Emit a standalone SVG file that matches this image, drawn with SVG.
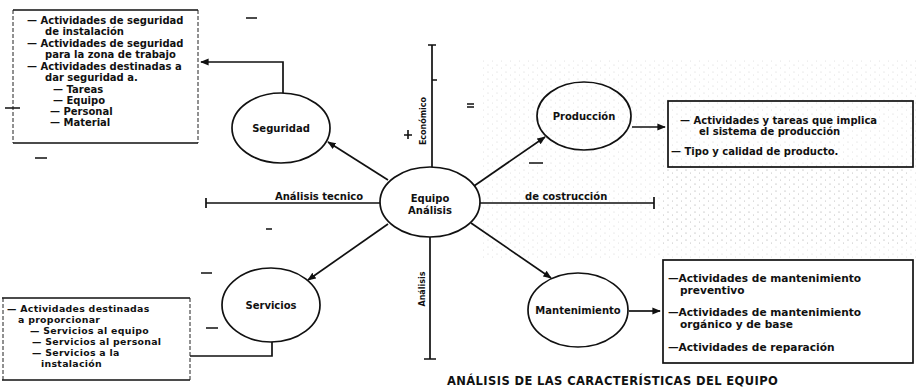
<svg xmlns="http://www.w3.org/2000/svg" width="916" height="387" viewBox="0 0 916 387">
<style>
.t{font-family:"DejaVu Sans","Liberation Sans",sans-serif;font-weight:bold;font-size:10px;fill:#111}
.c{text-anchor:middle}
.v{font-size:8px}
.m{font-size:10.6px}
.s{font-size:9.4px;letter-spacing:0.3px}
.ttl{font-size:11.5px;letter-spacing:0.4px}
.el{fill:none;stroke:#111;stroke-width:1.7}
.ln{fill:none;stroke:#111;stroke-width:1.7}
.bx{fill:none;stroke:#111;stroke-width:1.7}
.side{fill:none;stroke:#222;stroke-width:1;stroke-dasharray:4 2}
.art{stroke:#111;stroke-width:1.6;fill:none}
</style>
<defs>
<marker id="ah" viewBox="0 0 10 10" refX="9" refY="5" markerWidth="5" markerHeight="5" orient="auto">
<path d="M0,1 L10,5 L0,9 z" fill="#111"/>
</marker>
<pattern id="spk" width="9" height="7" patternUnits="userSpaceOnUse">
<circle cx="2" cy="2" r="0.6" fill="#999"/>
<circle cx="6.5" cy="5" r="0.5" fill="#aaa"/>
</pattern>
</defs>
<rect width="916" height="387" fill="#fff"/>
<rect x="480" y="60" width="436" height="200" fill="url(#spk)" opacity="0.45"/>
<rect x="660" y="165" width="250" height="80" fill="url(#spk)" opacity="0.6"/>

<g id="connectors">
<path class="ln" d="M432,167 V45 M428,45 H436"/>
<path class="ln" d="M430,237 V359 M424,359 H436"/>
<path class="ln" d="M380,203 H206 M206,198 V208"/>
<path class="ln" d="M480,203 H654 M654,197 V209"/>
<path class="ln" d="M388,180 L328,142" marker-end="url(#ah)"/>
<path class="ln" d="M474,186 L545,137" marker-end="url(#ah)"/>
<path class="ln" d="M388,224 L308,280" marker-end="url(#ah)"/>
<path class="ln" d="M471,223 L551,278" marker-end="url(#ah)"/>
<path class="ln" d="M283,93 V62 H201" marker-end="url(#ah)"/>
<path class="ln" d="M632,127 H665" marker-end="url(#ah)"/>
<path class="ln" d="M629,311 H660" marker-end="url(#ah)"/>
<path class="ln" d="M272,342 V356 H190"/>
<text class="t" x="275" y="200">Análisis tecnico</text>
<text class="t" x="525" y="200">de costrucción</text>
<text class="t v c" transform="translate(426,121) rotate(-90)">Económico</text>
<text class="t v c" transform="translate(425,289) rotate(-90)">Análisis</text>
</g>

<g id="equipo">
<ellipse class="el" cx="430" cy="202" rx="50" ry="35"/>
<text class="t c" x="430" y="202">Equipo</text>
<text class="t c" x="430" y="214">Análisis</text>
</g>

<g id="seguridad">
<ellipse class="el" cx="281" cy="128" rx="49" ry="35"/>
<text class="t c" x="281" y="132">Seguridad</text>
</g>

<g id="produccion">
<ellipse class="el" cx="584" cy="116" rx="47" ry="34"/>
<text class="t c" x="584" y="120">Producción</text>
</g>

<g id="servicios">
<ellipse class="el" cx="271" cy="305" rx="49" ry="37"/>
<text class="t c" x="271" y="309">Servicios</text>
</g>

<g id="mantenimiento">
<ellipse class="el" cx="578" cy="310" rx="50" ry="37"/>
<text class="t c" x="578" y="314">Mantenimiento</text>
</g>

<g id="seguridad-box">
<path class="bx" d="M13,10 H198 M13,143 H198"/>
<path class="side" d="M13,10 V143 M198,10 V143"/>
<text class="t" x="27" y="24">—  Actividades de seguridad</text>
<text class="t" x="45" y="35">de instalación</text>
<text class="t" x="27" y="47">—  Actividades de seguridad</text>
<text class="t" x="45" y="58">para la zona de trabajo</text>
<text class="t" x="27" y="70">—  Actividades destinadas a</text>
<text class="t" x="45" y="81">dar seguridad a.</text>
<text class="t" x="53" y="93">— Tareas</text>
<text class="t" x="53" y="104">— Equipo</text>
<text class="t" x="50" y="115">— Personal</text>
<text class="t" x="50" y="126">— Material</text>
</g>

<g id="produccion-box">
<rect class="bx" x="668" y="101" width="245" height="66"/>
<text class="t" x="680" y="124">—  Actividades y tareas que implica</text>
<text class="t" x="699" y="135">el sistema de producción</text>
<text class="t" x="671" y="155">— Tipo y calidad de producto.</text>
</g>

<g id="servicios-box">
<path class="bx" d="M2,298 H190 M2,380 H190"/>
<path class="side" d="M3,298 V380 M190,298 V380"/>
<text class="t s" x="7" y="312">— Actividades destinadas</text>
<text class="t s" x="18" y="323">a proporcionar</text>
<text class="t s" x="30" y="334">— Servicios al equipo</text>
<text class="t s" x="32" y="345">— Servicios al personal</text>
<text class="t s" x="32" y="356">— Servicios a la</text>
<text class="t s" x="41" y="367">instalación</text>
</g>

<g id="mantenimiento-box">
<rect class="bx" x="663" y="260" width="250" height="103"/>
<text class="t m" x="668" y="282">—Actividades de mantenimiento</text>
<text class="t m" x="680" y="294">preventivo</text>
<text class="t m" x="668" y="316">—Actividades de mantenimiento</text>
<text class="t m" x="680" y="328">orgánico y de base</text>
<text class="t m" x="668" y="351">—Actividades de reparación</text>
</g>

<g id="title">
<text class="t ttl" x="447" y="385">ANÁLISIS DE LAS CARACTERÍSTICAS DEL EQUIPO</text>
</g>

<g id="marks">
<path class="art" d="M246,18 H257 M35,158 H47 M5,108 H20 M467,104 H474 M467,107 H474 M529,163 H543 M432,80 H437 M404,135 H412 M408,130 V139 M266,229 H272 M201,273 H212 M206,328 H218"/>
</g>
</svg>
